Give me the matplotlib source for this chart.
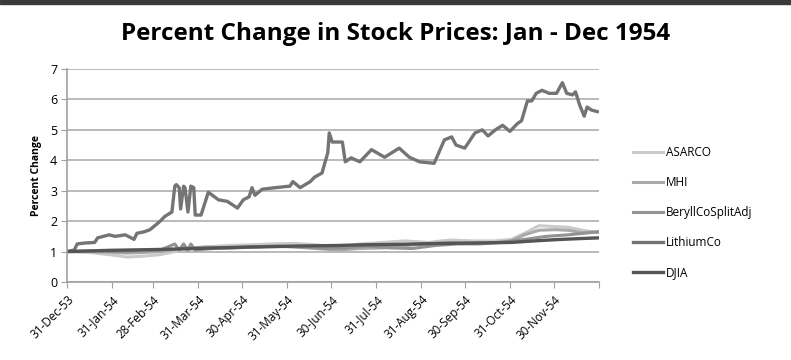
import matplotlib
matplotlib.use("Agg")
import matplotlib.pyplot as plt
import pandas as pd
from matplotlib.patches import Rectangle

# LithiumCo (big mover)
lith_dates = ["1953-12-31", "1954-01-05", "1954-01-07", "1954-01-12", "1954-01-19", "1954-01-21",
              "1954-01-29", "1954-02-02", "1954-02-09", "1954-02-15", "1954-02-17", "1954-02-22",
              "1954-02-26", "1954-03-05", "1954-03-08", "1954-03-13", "1954-03-15", "1954-03-16",
              "1954-03-18", "1954-03-19", "1954-03-21", "1954-03-22", "1954-03-24", "1954-03-26",
              "1954-03-28", "1954-03-29", "1954-04-02", "1954-04-07", "1954-04-14", "1954-04-20",
              "1954-04-27", "1954-05-01", "1954-05-05", "1954-05-07", "1954-05-09", "1954-05-14",
              "1954-05-23", "1954-06-02", "1954-06-04", "1954-06-09", "1954-06-16", "1954-06-19",
              "1954-06-24", "1954-06-28", "1954-06-29", "1954-07-01", "1954-07-08", "1954-07-10",
              "1954-07-14", "1954-07-20", "1954-07-28", "1954-08-06", "1954-08-16", "1954-08-23",
              "1954-08-30", "1954-09-09", "1954-09-16", "1954-09-21", "1954-09-24", "1954-09-30",
              "1954-10-07", "1954-10-12", "1954-10-16", "1954-10-21", "1954-10-26", "1954-10-31",
              "1954-11-05", "1954-11-08", "1954-11-12", "1954-11-15", "1954-11-18", "1954-11-22",
              "1954-11-27", "1954-12-02", "1954-12-06", "1954-12-09", "1954-12-13", "1954-12-15",
              "1954-12-18", "1954-12-21", "1954-12-23", "1954-12-26", "1954-12-30"]
lith_vals = [1.0, 1.05, 1.25, 1.28, 1.3, 1.45,
             1.55, 1.5, 1.55, 1.4, 1.6, 1.65,
             1.72, 2.0, 2.15, 2.3, 3.15, 3.2,
             3.1, 2.4, 3.15, 3.1, 2.3, 3.15,
             3.1, 2.2, 2.2, 2.95, 2.7, 2.65,
             2.43, 2.7, 2.8, 3.1, 2.85, 3.05,
             3.1, 3.15, 3.3, 3.1, 3.3, 3.45,
             3.58, 4.25, 4.9, 4.6, 4.6, 3.95,
             4.08, 3.95, 4.35, 4.1, 4.4, 4.1,
             3.95, 3.9, 4.67, 4.77, 4.5, 4.4,
             4.9, 5.0, 4.8, 5.0, 5.15, 4.95,
             5.2, 5.3, 5.95, 5.95, 6.2, 6.3,
             6.2, 6.2, 6.55, 6.2, 6.15, 6.25,
             5.8, 5.45, 5.75, 5.65, 5.6]

# the smaller series, read roughly every two weeks
base_dates = ["1953-12-31", "1954-01-15", "1954-01-29", "1954-02-10", "1954-02-22", "1954-03-05",
              "1954-03-20", "1954-04-05", "1954-04-20", "1954-05-05", "1954-05-20", "1954-06-05",
              "1954-06-20", "1954-07-05", "1954-07-20", "1954-08-05", "1954-08-20", "1954-09-05",
              "1954-09-20", "1954-10-05", "1954-10-20", "1954-11-01", "1954-11-10", "1954-11-20",
              "1954-12-01", "1954-12-10", "1954-12-20", "1954-12-31"]
asarco_vals = [1.0, 0.97, 0.9, 0.82, 0.85, 0.9, 1.05, 1.15, 1.2, 1.22, 1.25, 1.27, 1.22, 1.15,
               1.25, 1.3, 1.35, 1.3, 1.38, 1.35, 1.35, 1.4, 1.6, 1.85, 1.82, 1.8, 1.7, 1.62]
mhi_vals = [1.0, 1.0, 0.98, 0.95, 0.97, 1.0, 1.1, 1.15, 1.12, 1.15, 1.18, 1.15, 1.1, 1.05,
            1.1, 1.12, 1.2, 1.25, 1.3, 1.28, 1.3, 1.35, 1.55, 1.7, 1.72, 1.7, 1.62, 1.65]
djia_vals = [1.0, 1.02, 1.04, 1.05, 1.06, 1.07, 1.09, 1.11, 1.13, 1.15, 1.16, 1.18, 1.19, 1.2,
             1.22, 1.23, 1.24, 1.26, 1.27, 1.28, 1.29, 1.3, 1.33, 1.36, 1.39, 1.41, 1.43, 1.45]

beryl_dates = ["1953-12-31", "1954-01-15", "1954-01-29", "1954-02-10", "1954-02-22", "1954-03-05",
               "1954-03-15", "1954-03-18", "1954-03-21", "1954-03-24", "1954-03-26", "1954-03-29",
               "1954-04-10", "1954-04-25", "1954-05-10", "1954-05-25", "1954-06-10", "1954-06-25",
               "1954-07-10", "1954-07-25", "1954-08-10", "1954-08-25", "1954-09-10", "1954-09-25",
               "1954-10-10", "1954-10-25", "1954-11-10", "1954-11-25", "1954-12-10", "1954-12-31"]
beryl_vals = [1.0, 1.02, 1.0, 1.0, 1.03, 1.05, 1.25, 1.05, 1.25, 1.05, 1.25, 1.05,
              1.1, 1.12, 1.15, 1.18, 1.15, 1.1, 1.12, 1.18, 1.12, 1.1, 1.2, 1.25,
              1.25, 1.3, 1.4, 1.5, 1.55, 1.65]

tick_dates = ["1953-12-31", "1954-01-31", "1954-02-28", "1954-03-31", "1954-04-30", "1954-05-31",
              "1954-06-30", "1954-07-31", "1954-08-31", "1954-09-30", "1954-10-31", "1954-11-30"]
tick_labels = ["31-Dec-53", "31-Jan-54", "28-Feb-54", "31-Mar-54", "30-Apr-54", "31-May-54",
               "30-Jun-54", "31-Jul-54", "31-Aug-54", "30-Sep-54", "31-Oct-54", "30-Nov-54"]

plt.rcParams['font.family'] = ['Open Sans', 'DejaVu Sans']

fig = plt.figure(figsize=(7.91, 3.6), dpi=100)
ax = fig.add_axes([0.0847, 0.2167, 0.6723, 0.5916])

bd = pd.to_datetime(base_dates)
ax.plot(bd, asarco_vals, color='#cacaca', lw=2.2, label='ASARCO')
ax.plot(bd, mhi_vals, color='#a9a9a9', lw=2.2, label='MHI')
ax.plot(pd.to_datetime(beryl_dates), beryl_vals, color='#929292', lw=2.2, label='BeryllCoSplitAdj')
ax.plot(pd.to_datetime(lith_dates), lith_vals, color='#747474', lw=2.4, label='LithiumCo')
ax.plot(bd, djia_vals, color='#555555', lw=2.4, label='DJIA')

ax.set_ylim(0, 7)
ax.set_yticks(range(0, 8))
ax.set_xlim(pd.Timestamp("1953-12-31"), pd.Timestamp("1954-12-31"))
ax.set_xticks(list(pd.to_datetime(tick_dates)) + [pd.Timestamp("1954-12-31")])
ax.set_xticklabels(tick_labels + [""], rotation=45, ha='right', rotation_mode='anchor', fontsize=8.5)
ax.tick_params(axis='x', length=4, color='#a0a0a0', pad=4)
ax.tick_params(axis='y', length=4, color='#a0a0a0', labelsize=9, pad=3)
ax.yaxis.grid(True, color='#b4b4b4', lw=1.3)
ax.set_axisbelow(True)
for s in ['top', 'right']:
    ax.spines[s].set_visible(False)
for s in ['left', 'bottom']:
    ax.spines[s].set_color('#a0a0a0')
    ax.spines[s].set_linewidth(1.2)

ax.set_ylabel("Percent Change", fontsize=7.5, fontweight='bold', labelpad=6)
fig.text(0.5, 0.905, "Percent Change in Stock Prices: Jan - Dec 1954", ha='center', va='center',
         fontsize=17.5, fontweight='bold')

ax.legend(loc='center left', bbox_to_anchor=(1.045, 0.325), frameon=False, fontsize=8.5,
          labelspacing=1.45, handlelength=2.5, handletextpad=0.25)

fig.patches.append(Rectangle((0, 0.99), 1, 0.01, transform=fig.transFigure, color='#3a3a3a'))

fig.savefig("out.png", dpi=100)
